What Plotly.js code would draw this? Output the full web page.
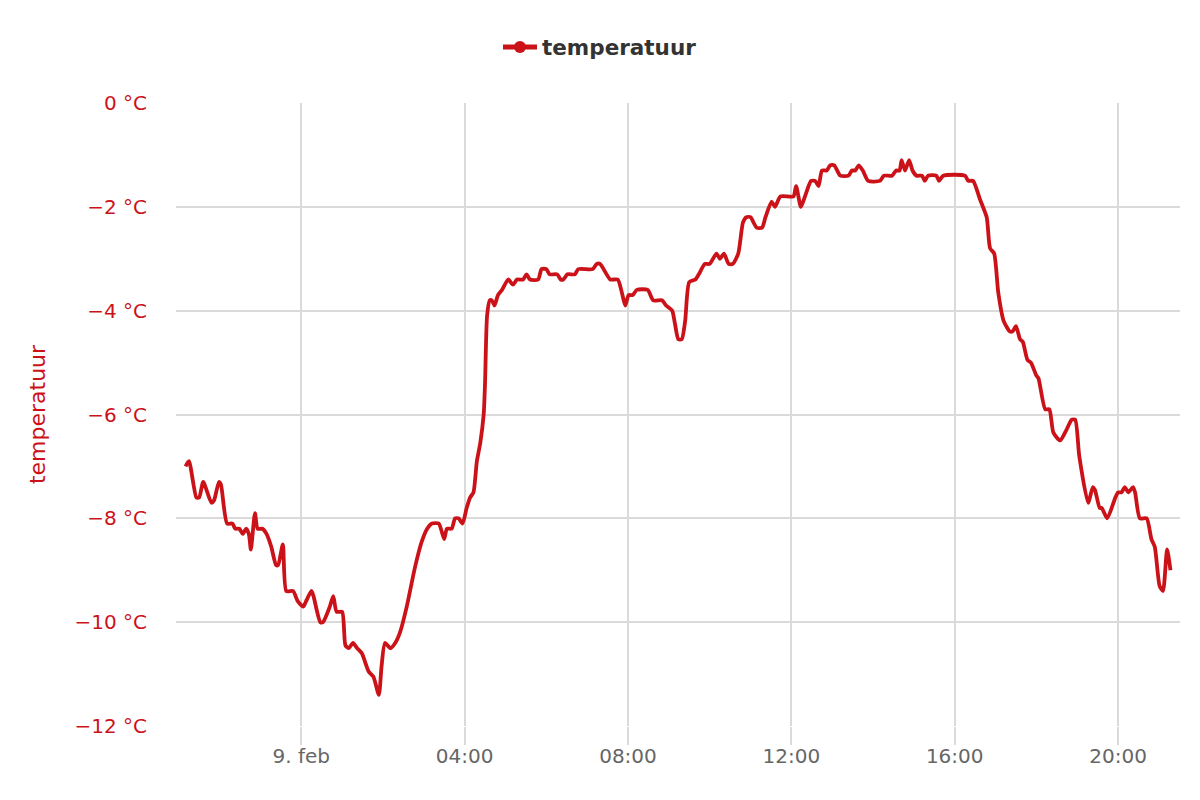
<!DOCTYPE html>
<html>
<head>
<meta charset="utf-8">
<script src="https://cdn.plot.ly/plotly-3.0.1.min.js"></script>
<style>html,body{margin:0;padding:0;background:#fff;}#chart{width:1200px;height:800px;}</style>
</head>
<body>
<div id="chart"></div>
<script>
// Series name
const seriesName = "temperatuur";

// Timestamps (8-9 Feb)
const times = [
"2025-02-08 21:10","2025-02-08 21:15","2025-02-08 21:26","2025-02-08 21:30","2025-02-08 21:36","2025-02-08 21:48","2025-02-08 21:52","2025-02-08 21:59","2025-02-08 22:02","2025-02-08 22:11",
"2025-02-08 22:19","2025-02-08 22:23","2025-02-08 22:29","2025-02-08 22:34","2025-02-08 22:39","2025-02-08 22:43","2025-02-08 22:46","2025-02-08 22:52","2025-02-08 22:56","2025-02-08 23:03",
"2025-02-08 23:09","2025-02-08 23:16","2025-02-08 23:23","2025-02-08 23:26","2025-02-08 23:33","2025-02-08 23:38","2025-02-08 23:48","2025-02-08 23:55","2025-02-09 00:03","2025-02-09 00:07",
"2025-02-09 00:15","2025-02-09 00:18","2025-02-09 00:28","2025-02-09 00:32","2025-02-09 00:42","2025-02-09 00:47","2025-02-09 00:52","2025-02-09 01:00","2025-02-09 01:05","2025-02-09 01:10",
"2025-02-09 01:16","2025-02-09 01:22","2025-02-09 01:29","2025-02-09 01:39","2025-02-09 01:46","2025-02-09 01:54","2025-02-09 01:58","2025-02-09 02:03","2025-02-09 02:11","2025-02-09 02:18",
"2025-02-09 02:25","2025-02-09 02:35","2025-02-09 02:47","2025-02-09 02:57","2025-02-09 03:05","2025-02-09 03:12","2025-02-09 03:22","2025-02-09 03:30","2025-02-09 03:34","2025-02-09 03:41",
"2025-02-09 03:46","2025-02-09 03:51","2025-02-09 03:57","2025-02-09 04:03","2025-02-09 04:08","2025-02-09 04:13","2025-02-09 04:18","2025-02-09 04:23","2025-02-09 04:28","2025-02-09 04:30",
"2025-02-09 04:33","2025-02-09 04:37","2025-02-09 04:40","2025-02-09 04:44","2025-02-09 04:49","2025-02-09 04:55","2025-02-09 05:04","2025-02-09 05:11","2025-02-09 05:17","2025-02-09 05:26",
"2025-02-09 05:31","2025-02-09 05:36","2025-02-09 05:48","2025-02-09 05:53","2025-02-09 06:00","2025-02-09 06:05","2025-02-09 06:16","2025-02-09 06:21","2025-02-09 06:25","2025-02-09 06:31",
"2025-02-09 06:42","2025-02-09 06:47","2025-02-09 07:08","2025-02-09 07:14","2025-02-09 07:19","2025-02-09 07:34","2025-02-09 07:45","2025-02-09 07:51","2025-02-09 07:56","2025-02-09 08:01",
"2025-02-09 08:07","2025-02-09 08:13","2025-02-09 08:29","2025-02-09 08:37","2025-02-09 08:50","2025-02-09 08:56","2025-02-09 09:05","2025-02-09 09:09","2025-02-09 09:14","2025-02-09 09:19",
"2025-02-09 09:24","2025-02-09 09:30","2025-02-09 09:39","2025-02-09 09:44","2025-02-09 09:53","2025-02-09 10:00","2025-02-09 10:10","2025-02-09 10:15","2025-02-09 10:21","2025-02-09 10:28",
"2025-02-09 10:34","2025-02-09 10:42","2025-02-09 10:49","2025-02-09 10:54","2025-02-09 11:00","2025-02-09 11:09","2025-02-09 11:17","2025-02-09 11:22","2025-02-09 11:31","2025-02-09 11:36",
"2025-02-09 11:44","2025-02-09 12:03","2025-02-09 12:07","2025-02-09 12:14","2025-02-09 12:20","2025-02-09 12:29","2025-02-09 12:35","2025-02-09 12:40","2025-02-09 12:45","2025-02-09 12:52",
"2025-02-09 12:57","2025-02-09 13:03","2025-02-09 13:12","2025-02-09 13:24","2025-02-09 13:29","2025-02-09 13:34","2025-02-09 13:39","2025-02-09 13:45","2025-02-09 13:53","2025-02-09 14:10",
"2025-02-09 14:16","2025-02-09 14:28","2025-02-09 14:34","2025-02-09 14:39","2025-02-09 14:42","2025-02-09 14:47","2025-02-09 14:53","2025-02-09 14:58","2025-02-09 15:04","2025-02-09 15:12",
"2025-02-09 15:16","2025-02-09 15:21","2025-02-09 15:33","2025-02-09 15:37","2025-02-09 15:43","2025-02-09 16:15","2025-02-09 16:20","2025-02-09 16:27","2025-02-09 16:37","2025-02-09 16:47",
"2025-02-09 16:52","2025-02-09 16:58","2025-02-09 17:04","2025-02-09 17:12","2025-02-09 17:21","2025-02-09 17:25","2025-02-09 17:30","2025-02-09 17:36","2025-02-09 17:40","2025-02-09 17:47",
"2025-02-09 17:52","2025-02-09 18:00","2025-02-09 18:03","2025-02-09 18:13","2025-02-09 18:19","2025-02-09 18:25","2025-02-09 18:35","2025-02-09 18:44","2025-02-09 18:52","2025-02-09 18:57",
"2025-02-09 19:03","2025-02-09 19:16","2025-02-09 19:23","2025-02-09 19:26","2025-02-09 19:33","2025-02-09 19:36","2025-02-09 19:44","2025-02-09 19:56","2025-02-09 20:00","2025-02-09 20:05",
"2025-02-09 20:10","2025-02-09 20:15","2025-02-09 20:22","2025-02-09 20:25","2025-02-09 20:32","2025-02-09 20:42","2025-02-09 20:49","2025-02-09 20:54","2025-02-09 21:01","2025-02-09 21:06",
"2025-02-09 21:12","2025-02-09 21:17"
];

// Temperature values (°C)
const temps = [
-7.0,-6.9,-7.6,-7.6,-7.3,-7.7,-7.65,-7.3,-7.35,-8.1,
-8.1,-8.2,-8.2,-8.3,-8.2,-8.3,-8.6,-7.9,-8.2,-8.2,
-8.3,-8.55,-8.9,-8.9,-8.5,-9.4,-9.4,-9.6,-9.7,-9.6,
-9.4,-9.5,-10.0,-10.0,-9.7,-9.5,-9.8,-9.8,-10.45,-10.5,
-10.4,-10.5,-10.6,-10.95,-11.05,-11.4,-10.85,-10.4,-10.5,-10.4,
-10.2,-9.7,-8.95,-8.45,-8.2,-8.1,-8.1,-8.4,-8.2,-8.2,
-8.0,-8.0,-8.1,-7.8,-7.6,-7.5,-6.9,-6.55,-6.0,-5.4,
-4.1,-3.8,-3.8,-3.9,-3.7,-3.6,-3.4,-3.5,-3.4,-3.4,
-3.3,-3.4,-3.4,-3.2,-3.2,-3.3,-3.3,-3.4,-3.4,-3.3,
-3.3,-3.2,-3.2,-3.1,-3.1,-3.4,-3.4,-3.65,-3.9,-3.7,
-3.7,-3.6,-3.6,-3.8,-3.8,-3.9,-4.0,-4.25,-4.55,-4.55,
-4.2,-3.45,-3.4,-3.3,-3.1,-3.1,-2.9,-3.0,-2.9,-3.1,
-3.1,-2.9,-2.3,-2.2,-2.2,-2.4,-2.4,-2.2,-1.9,-2.0,
-1.8,-1.8,-1.6,-2.0,-1.8,-1.5,-1.5,-1.6,-1.3,-1.3,
-1.2,-1.2,-1.4,-1.4,-1.3,-1.3,-1.2,-1.3,-1.5,-1.5,
-1.4,-1.4,-1.3,-1.3,-1.1,-1.3,-1.1,-1.3,-1.4,-1.4,
-1.5,-1.4,-1.4,-1.5,-1.4,-1.4,-1.5,-1.5,-1.85,-2.2,
-2.8,-2.9,-3.65,-4.2,-4.4,-4.4,-4.3,-4.55,-4.6,-4.95,
-5.0,-5.25,-5.3,-5.9,-5.9,-6.35,-6.5,-6.3,-6.1,-6.1,
-6.8,-7.7,-7.4,-7.45,-7.8,-7.8,-8.0,-7.6,-7.5,-7.5,
-7.4,-7.5,-7.4,-7.5,-8.0,-8.0,-8.4,-8.55,-9.3,-9.4,
-8.6,-9.0
];

// Axis ticks
const xTickVals = ["2025-02-09 00:00","2025-02-09 04:00","2025-02-09 08:00","2025-02-09 12:00","2025-02-09 16:00","2025-02-09 20:00"];
const xTickText = ["9. feb","04:00","08:00","12:00","16:00","20:00"];
const xRange = ["2025-02-08 20:56","2025-02-09 21:31"];
const yTickVals = [0,-2,-4,-6,-8,-10,-12];
const yTickText = ["0 °C","\u22122 °C","\u22124 °C","\u22126 °C","\u22128 °C","\u221210 °C","\u221212 °C"];

const red = "#cc1219";

const trace = {
  x: times, y: temps, name: seriesName, type: "scatter", mode: "lines+markers",
  line: {color: red, width: 3.8, shape: "spline", smoothing: 0.6},
  marker: {color: red, size: 0.01, line: {width: 0}},
  hoverinfo: "x+y"
};

const layout = {
  width: 1200, height: 800,
  margin: {l: 176, r: 20, t: 103, b: 74, autoexpand: false},
  paper_bgcolor: "#fff", plot_bgcolor: "#fff",
  font: {family: "DejaVu Sans", color: "#666"},
  showlegend: true,
  legend: {orientation: "h", x: 0.4223, xanchor: "center", y: 1.09, yanchor: "middle",
           itemsizing: "constant", itemwidth: 34,
           font: {family: "DejaVu Sans", size: 21.5, color: "#333", weight: "bold"}},
  xaxis: {type: "date", range: xRange, tickvals: xTickVals, ticktext: xTickText, tickangle: 0,
          showgrid: true, gridcolor: "#dadada", gridwidth: 1.5,
          ticks: "outside", ticklen: 18, tickcolor: "#dadada", tickwidth: 1.5,
          ticklabelstandoff: -6,
          tickfont: {family: "DejaVu Sans", size: 20, color: "#666"},
          showline: false, zeroline: false, fixedrange: true, automargin: false},
  yaxis: {range: [-12, 0], tickvals: yTickVals, ticktext: yTickText,
          showgrid: true, gridcolor: "#dadada", gridwidth: 1.5, zeroline: false,
          ticks: "", ticklabelstandoff: 28, automargin: false,
          tickfont: {family: "DejaVu Sans", size: 20, color: red},
          title: {text: "temperatuur", standoff: 22, font: {family: "DejaVu Sans", size: 22, color: red}},
          showline: false, fixedrange: true}
};

Plotly.newPlot("chart", [trace], layout, {displayModeBar: false, staticPlot: false});
</script>
</body>
</html>
